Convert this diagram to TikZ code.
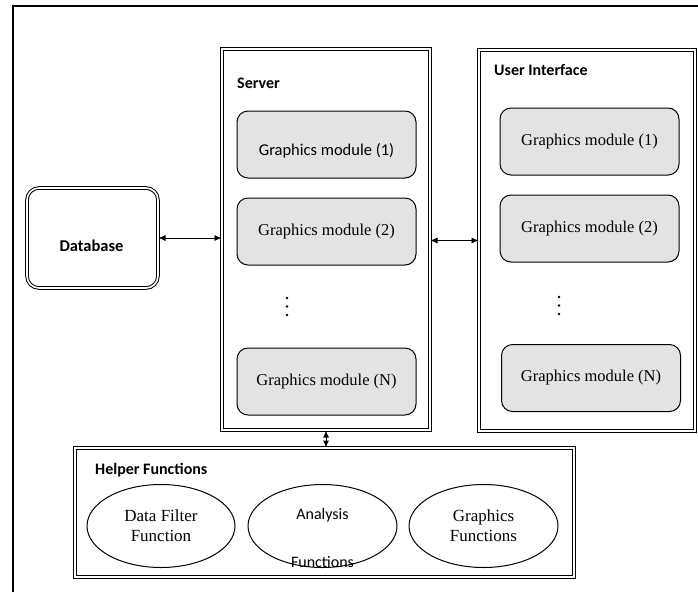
\documentclass[tikz,border=0pt]{standalone}
\usepackage{fontspec}
\setmainfont{Liberation Serif}
\newfontfamily\carlito{Carlito}
\usepackage{tikz}
\usetikzlibrary{shapes.geometric,arrows.meta}
\definecolor{modgray}{HTML}{E3E3E3}

\begin{document}
\begin{tikzpicture}[x=1pt,y=-1pt]
        \tikzstyle{frame}=[draw,line width=1pt,double,double distance=1.6pt,inner sep=0pt]
        \tikzstyle{module}=[draw,line width=1pt,fill=modgray,rounded corners=11pt,minimum width=179,minimum height=67,inner sep=0pt,font=\fontsize{16.5}{19}\selectfont]
        \tikzstyle{func}=[draw,line width=1pt,shape=ellipse,minimum width=148,minimum height=83,inner sep=0pt,align=center,font=\fontsize{17}{20}\selectfont]
        \tikzstyle{title}=[anchor=west,inner sep=0pt,font=\carlito\bfseries\fontsize{16}{19}\selectfont]
        \tikzstyle{sanstext}=[inner sep=0pt,font=\carlito\fontsize{16}{19}\selectfont]
        \tikzstyle{link}=[{Latex[length=7pt,width=6pt]}-{Latex[length=7pt,width=6pt]},line width=0.7pt]
        \useasboundingbox (0,0) rectangle (698,592);
            % outer frame
            \draw[line width=1.2pt] (13,592) -- (13,6) -- (698,6);

            \node[frame,rounded corners=12pt,minimum width=131,minimum height=100] (db) at (92.5,238) {};
            \node[frame,minimum width=208,minimum height=381] (server) at (326,239.5) {};
            \node[frame,minimum width=216,minimum height=381] (ui) at (587,240.5) {};
            \node[frame,minimum width=499,minimum height=129] (helper) at (324.5,512.5) {};

            \node[title,anchor=center,font=\carlito\bfseries\fontsize{16.5}{19}\selectfont] (dbtitle) at (91.5,246) {Database};
            \node[title] (srvtitle) at (237,83) {Server};
            \node[title] (uititle) at (494,70) {User Interface};
            \node[title] (helptitle) at (95,470) {Helper Functions};

            \node[module] (s1) at (326.5,144.5) {};
            \node[sanstext,font=\carlito\fontsize{16.5}{19}\selectfont] (s1text) at (326.5,151) {Graphics module (1)};
            \node[module] (s2) at (326.5,231.5) {Graphics module (2)};
            \node[module] (sn) at (326.5,381.5) {Graphics module (N)};
            \node[module] (u1) at (589.5,141.5) {Graphics module (1)};
            \node[module] (u2) at (589.5,228.5) {Graphics module (2)};
            \node[module] (un) at (591,378) {Graphics module (N)};

            \foreach \y in {298,306.5,315} {
                \fill (287,\y) circle (1.3);
                \fill (559,\y-1) circle (1.3);
            }

            \node[func] (filter) at (161,526) {Data Filter\\Function};
            \node[func,minimum width=149] (analysis) at (322.5,526) {};
            \node[sanstext] (anatop) at (322.5,515) {Analysis};
            \node[sanstext] (anabot) at (322.5,562) {Functions};
            \node[func,minimum width=149] (graphics) at (483.5,526) {Graphics\\Functions};

            \draw[link] (db.east) -- (db.east -| server.west);
            \draw[link] (ui.west -| server.east) -- (ui.west);
            \draw[link,line width=1pt] (server.south) -- (server.south |- helper.north);
        \end{tikzpicture}
\end{document}
